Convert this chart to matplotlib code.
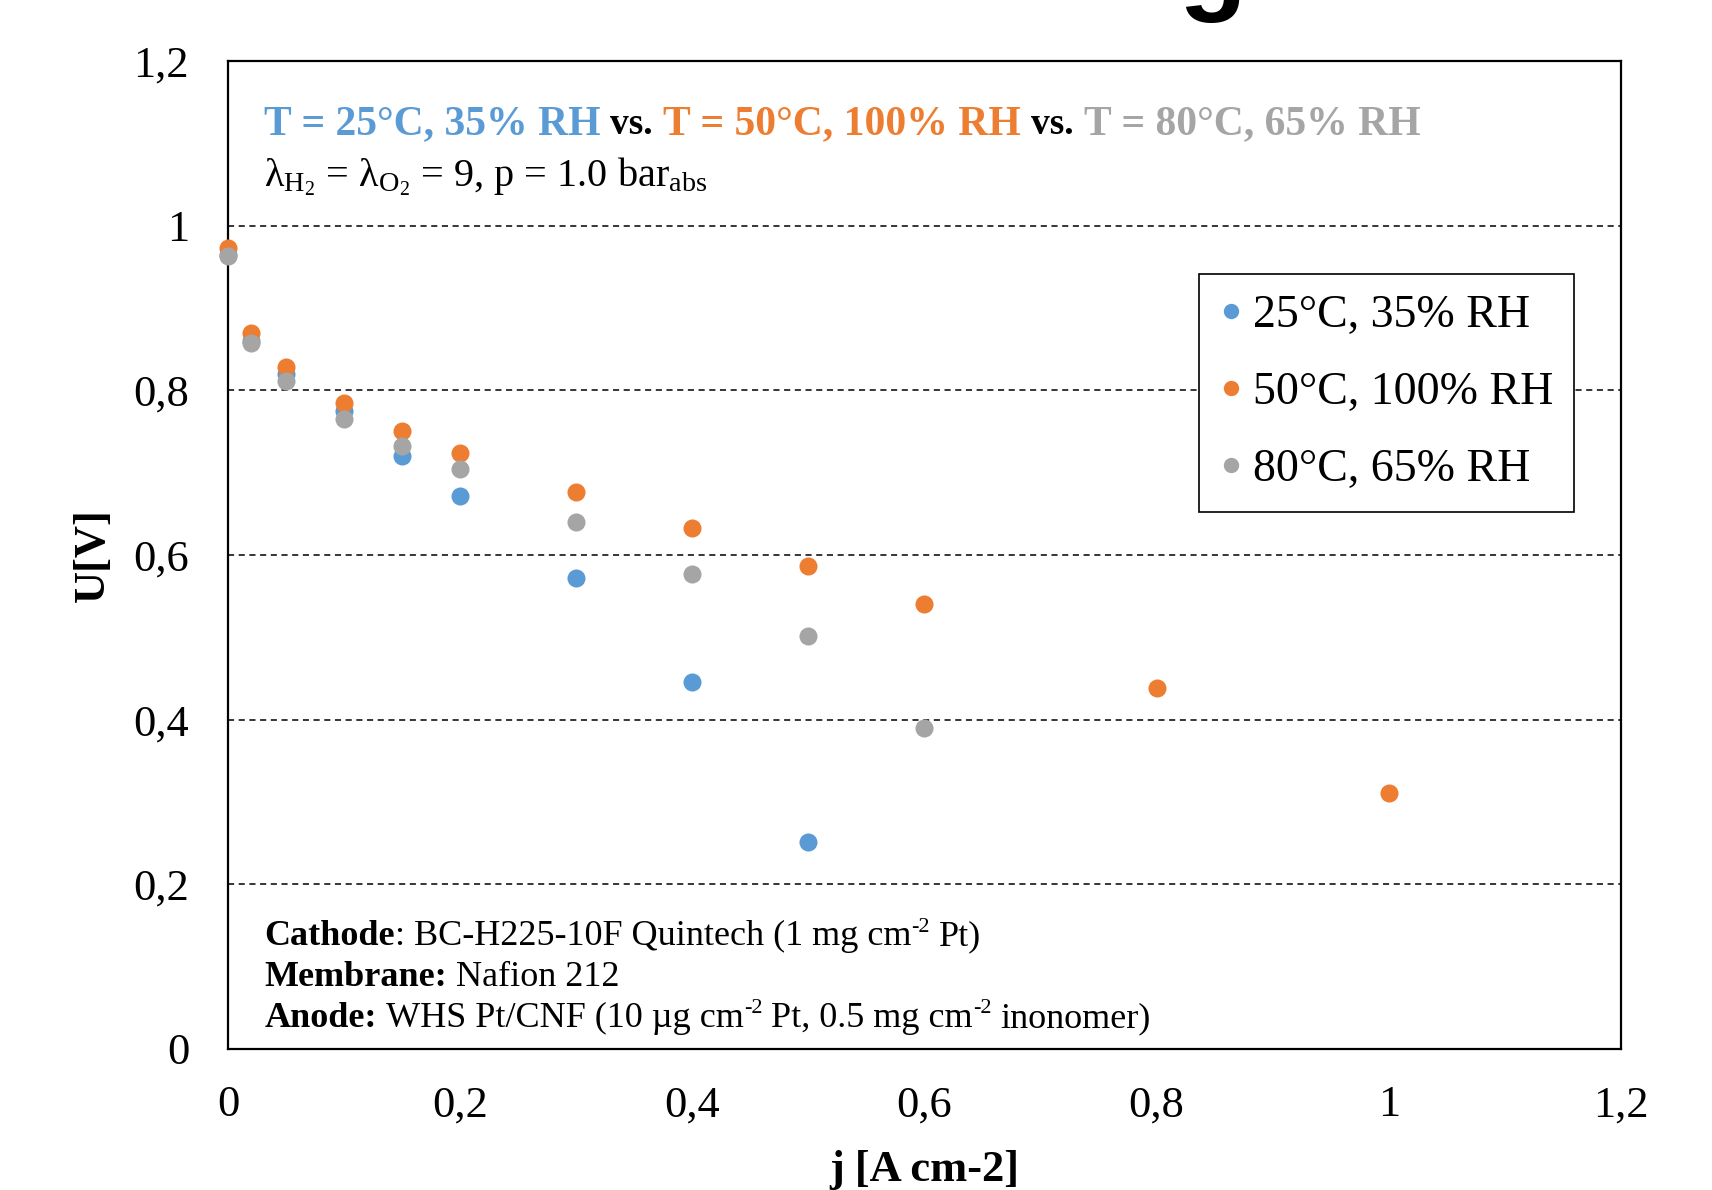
#import neccessary libraries
import matplotlib
matplotlib.use("Agg")
import matplotlib.pyplot as plt
from matplotlib.ticker import FuncFormatter

#font settings (Times-like)
plt.rcParams['font.family'] = ['Liberation Serif', 'DejaVu Serif']
plt.rcParams['mathtext.fontset'] = 'custom'
plt.rcParams['mathtext.rm'] = 'Liberation Serif'
plt.rcParams['mathtext.it'] = 'Liberation Serif:italic'
plt.rcParams['mathtext.bf'] = 'Liberation Serif:bold'

#data
j_25 = [0, 0.02, 0.05, 0.1, 0.15, 0.2, 0.3, 0.4, 0.5]
u_25 = [0.965, 0.860, 0.820, 0.775, 0.720, 0.672, 0.572, 0.446, 0.251]
j_50 = [0, 0.02, 0.05, 0.1, 0.15, 0.2, 0.3, 0.4, 0.5, 0.6, 0.8, 1.0]
u_50 = [0.973, 0.870, 0.828, 0.785, 0.751, 0.724, 0.676, 0.633, 0.587, 0.541, 0.438, 0.311]
j_80 = [0, 0.02, 0.05, 0.1, 0.15, 0.2, 0.3, 0.4, 0.5, 0.6]
u_80 = [0.963, 0.857, 0.811, 0.765, 0.732, 0.704, 0.640, 0.577, 0.502, 0.390]

labels = ["25°C, 35% RH", "50°C, 100% RH", "80°C, 65% RH"]
colors = ["#5B9BD5", "#ED7D31", "#A5A5A5"]
ticks = [0, 0.2, 0.4, 0.6, 0.8, 1.0, 1.2]

fig = plt.figure(figsize=(17.12, 11.9), dpi=100)
ax = fig.add_axes([0.1332, 0.1185, 0.8136, 0.8302])
renderer = fig.canvas.get_renderer()

#scatter series
for j, u, lab, c in zip([j_25, j_50, j_80], [u_25, u_50, u_80], labels, colors):
    ax.plot(j, u, 'o', color=c, markersize=13, markeredgewidth=0, label=lab,
            clip_on=False, zorder=5)

ax.set_xlim(0, 1.2)
ax.set_ylim(0, 1.2)
ax.set_xticks(ticks)
ax.set_yticks(ticks)
fmt = FuncFormatter(lambda v, p: f"{v:g}".replace('.', ','))
ax.xaxis.set_major_formatter(fmt)
ax.yaxis.set_major_formatter(fmt)
ax.tick_params(axis='both', length=0, labelsize=32)
ax.tick_params(axis='x', pad=26)
ax.tick_params(axis='y', pad=28)

#dashed gridlines
for g in ticks[1:-1]:
    ax.axhline(g, color='black', linestyle=(0, (4, 3)), linewidth=1.1, zorder=1)

for s in ax.spines.values():
    s.set_linewidth(1.6)

ax.set_xlabel("j [A cm-2]", fontsize=32, fontweight='bold', labelpad=18)
ax.set_ylabel("U[V]", fontsize=32, fontweight='bold', labelpad=15)

#legend
leg = ax.legend(loc='upper right', bbox_to_anchor=(0.9663, 0.7844), borderaxespad=0,
                fontsize=33, frameon=True, fancybox=False, edgecolor='black',
                framealpha=1, handlelength=0.5, handletextpad=0.22, labelspacing=0.75,
                borderpad=0.45, markerscale=0.85)
leg.get_frame().set_linewidth(1.2)
leg.set_zorder(10)

#helper: write pieces of text one after another on one baseline
#piece = (text, size, weight, color, gap before in em, rise in points)
def write_line(x0, y, pieces):
    x = x0
    for txt, size, weight, color, gap, rise in pieces:
        x = x + gap * size * fig.dpi / 72.0 / ax.bbox.width
        t = ax.annotate(txt, xy=(x, y), xycoords='axes fraction', xytext=(0, rise),
                        textcoords='offset points', fontsize=size, fontweight=weight,
                        color=color, va='baseline', ha='left')
        bb = t.get_window_extent(renderer)
        x = ax.transAxes.inverted().transform((bb.x1, bb.y0))[0]

#coloured header line
write_line(0.026, 0.926, [("T = 25°C, 35% RH", 30, 'bold', colors[0], 0, 0),
                          ("vs.", 27, 'bold', 'black', 0.25, 0),
                          ("T = 50°C, 100% RH", 30, 'bold', colors[1], 0.25, 0),
                          ("vs.", 27, 'bold', 'black', 0.25, 0),
                          ("T = 80°C, 65% RH", 30, 'bold', colors[2], 0.25, 0)])

ax.text(0.026, 0.873, r"λ$_{\mathrm{H}_{2}}$ = λ$_{\mathrm{O}_{2}}$ = 9, p = 1.0 bar$_{\mathrm{abs}}$",
        transform=ax.transAxes, fontsize=29, va='baseline', ha='left')

#bottom notes (superscripts as small raised pieces)
write_line(0.026, 0.1048, [("Cathode", 26, 'bold', 'black', 0, 0),
                           (": BC-H225-10F Quintech (1 mg cm", 26, 'normal', 'black', 0, 0),
                           ("-2", 16, 'normal', 'black', 0, 10),
                           ("Pt)", 26, 'normal', 'black', 0.25, 0)])
write_line(0.026, 0.0638, [("Membrane:", 26, 'bold', 'black', 0, 0),
                           ("Nafion 212", 26, 'normal', 'black', 0.25, 0)])
write_line(0.026, 0.0223, [("Anode:", 26, 'bold', 'black', 0, 0),
                           ("WHS Pt/CNF (10 µg cm", 26, 'normal', 'black', 0.25, 0),
                           ("-2", 16, 'normal', 'black', 0, 10),
                           ("Pt, 0.5 mg cm", 26, 'normal', 'black', 0.25, 0),
                           ("-2", 16, 'normal', 'black', 0, 10),
                           ("inonomer)", 26, 'normal', 'black', 0.25, 0)])

#clipped title glyph at the top edge
fig.text(0.708, 1.0, "g", fontsize=80, fontweight='bold', family='Liberation Sans',
         ha='center', va='baseline')

fig.savefig("out.png", dpi=100)
